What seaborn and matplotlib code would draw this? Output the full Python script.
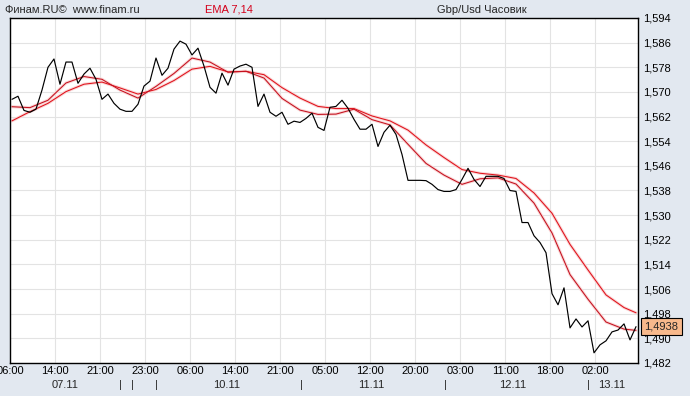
import matplotlib
matplotlib.use('Agg')
import matplotlib.pyplot as plt
import pandas as pd
import seaborn as sns

# GBP/USD hourly close, bar 0 = 07.11 06:00
close = [1.5676, 1.5686, 1.5640, 1.5634, 1.5644, 1.5706, 1.5780, 1.5807, 1.5725, 1.5797,
         1.5797, 1.5728, 1.5758, 1.5777, 1.5741, 1.5676, 1.5693, 1.5663, 1.5644, 1.5637,
         1.5637, 1.5660, 1.5719, 1.5735, 1.5810, 1.5754, 1.5777, 1.5839, 1.5865, 1.5855,
         1.5820, 1.5842, 1.5784, 1.5715, 1.5696, 1.5761, 1.5722, 1.5774, 1.5784, 1.5790,
         1.5780, 1.5653, 1.5693, 1.5634, 1.5621, 1.5634, 1.5595, 1.5605, 1.5601, 1.5614,
         1.5631, 1.5585, 1.5575, 1.5650, 1.5653, 1.5673, 1.5647, 1.5611, 1.5579, 1.5579,
         1.5595, 1.5523, 1.5569, 1.5592, 1.5562, 1.5497, 1.5413, 1.5413, 1.5413, 1.5412,
         1.5400, 1.5383, 1.5377, 1.5377, 1.5383, 1.5416, 1.5452, 1.5416, 1.5393, 1.5426,
         1.5426, 1.5426, 1.5419, 1.5380, 1.5377, 1.5276, 1.5276, 1.5233, 1.5211, 1.5178,
         1.5045, 1.5009, 1.5064, 1.4934, 1.4963, 1.4937, 1.4957, 1.4853, 1.4879, 1.4892,
         1.4921, 1.4927, 1.4947, 1.4895, 1.4938]

# EMA values read every 3 bars
ema_bars = [0, 3, 6, 9, 12, 15, 18, 21, 24, 27, 30, 33, 36, 39, 42, 45, 48, 51,
            54, 57, 60, 63, 66, 69, 72, 75, 78, 81, 84, 87, 90, 93, 96, 99, 102, 104]
ema7 = [1.5652, 1.5649, 1.5673, 1.5729, 1.5750, 1.5741, 1.5706, 1.5680, 1.5718, 1.5760,
        1.5810, 1.5797, 1.5764, 1.5767, 1.5745, 1.5679, 1.5641, 1.5627, 1.5628, 1.5644,
        1.5610, 1.5593, 1.5530, 1.5468, 1.5430, 1.5400, 1.5418, 1.5421, 1.5401, 1.5339,
        1.5242, 1.5107, 1.5027, 1.4953, 1.4930, 1.4926]
ema14 = [1.5606, 1.5636, 1.5663, 1.5701, 1.5725, 1.5732, 1.5713, 1.5693, 1.5708, 1.5737,
         1.5774, 1.5783, 1.5765, 1.5767, 1.5756, 1.5714, 1.5680, 1.5653, 1.5646, 1.5646,
         1.5622, 1.5606, 1.5576, 1.5528, 1.5487, 1.5448, 1.5436, 1.5430, 1.5419, 1.5372,
         1.5306, 1.5205, 1.5122, 1.5041, 1.5000, 1.4983]

y_ticks = [1.482, 1.490, 1.498, 1.506, 1.514, 1.522, 1.530, 1.538,
           1.546, 1.554, 1.562, 1.570, 1.578, 1.586, 1.594]
time_labels = ['06:00', '14:00', '21:00', '23:00', '06:00', '14:00', '21:00',
               '05:00', '12:00', '20:00', '03:00', '11:00', '18:00', '02:00']
date_labels = ['07.11', '10.11', '11.11', '12.11', '13.11']
date_pos = [8.8, 35.7, 59.8, 83.5, 100.0]
day_marks = [18.1, 20.1, 24.1, 48.3, 72.2, 96.0]
last_price = 1.4938

BG = '#e2e8f0'
GRID = '#e3e3e3'

sns.set_style('white')
plt.rcParams['font.family'] = ['Liberation Sans', 'DejaVu Sans']
plt.rcParams['font.size'] = 8

fig = plt.figure(figsize=(6.9, 3.96), dpi=100, facecolor=BG)
ax = fig.add_axes([10 / 690, 33 / 396, 628 / 690, 345 / 396])
ax.set_facecolor('white')

df = pd.DataFrame({'bar': range(len(close)), 'close': close})
ema = pd.DataFrame({'bar': ema_bars, 'ema7': ema7, 'ema14': ema14})

# faint pink halo under the red EMA lines
for col in ['ema14', 'ema7']:
    sns.lineplot(data=ema, x='bar', y=col, ax=ax, color='#f9d6d6', linewidth=2.2, zorder=2)
sns.lineplot(data=ema, x='bar', y='ema14', ax=ax, color='#e0101a', linewidth=0.75, zorder=3)
sns.lineplot(data=ema, x='bar', y='ema7', ax=ax, color='#c4101e', linewidth=0.75, zorder=3)
sns.lineplot(data=df, x='bar', y='close', ax=ax, color='black', linewidth=0.85, zorder=4)

ax.set_xlim(-0.33, 104.33)
ax.set_ylim(y_ticks[0], y_ticks[-1])
ax.set_xlabel('')
ax.set_ylabel('')

xt = [k * 7.5 - 0.33 for k in range(len(time_labels))]
ax.set_xticks(xt)
ax.set_xticklabels(time_labels)
ax.set_yticks(y_ticks)
ax.set_yticklabels([f'{v:.3f}'.replace('.', ',') for v in y_ticks])
ax.yaxis.tick_right()
ax.tick_params(axis='x', length=0, pad=2, labelsize=8, colors='black')
ax.tick_params(axis='y', length=0, pad=3.5, labelsize=8, colors='black')
ax.grid(True, color=GRID, linewidth=0.8, zorder=0)
ax.set_axisbelow(True)
for s in ax.spines.values():
    s.set_color('black')
    s.set_linewidth(1.0)

for lab, p in zip(date_labels, date_pos):
    ax.annotate(lab, xy=(p, 11), xycoords=('data', 'figure pixels'),
                ha='center', va='center', fontsize=8)
for p in day_marks:
    ax.annotate('|', xy=(p, 11), xycoords=('data', 'figure pixels'),
                ha='center', va='center', fontsize=8)

ax.annotate(f'{last_price:.4f}'.replace('.', ','), xy=(1, last_price),
            xycoords=('axes fraction', 'data'), xytext=(4.5, 0), textcoords='offset points',
            ha='left', va='center', fontsize=8, zorder=10, annotation_clip=False,
            bbox=dict(boxstyle='square,pad=0.3', fc='#f8b98c', ec='black', lw=0.8))

fig.text(5 / 690, 1 - 10 / 396, 'Финам.RU©  www.finam.ru', ha='left', va='center', fontsize=8)
fig.text(205 / 690, 1 - 10 / 396, 'EMA 7,14', ha='left', va='center', fontsize=8, color='#d4001a')
fig.text(437 / 690, 1 - 10 / 396, 'Gbp/Usd Часовик', ha='left', va='center', fontsize=8)

fig.savefig('out.png', dpi=100, facecolor=BG)
